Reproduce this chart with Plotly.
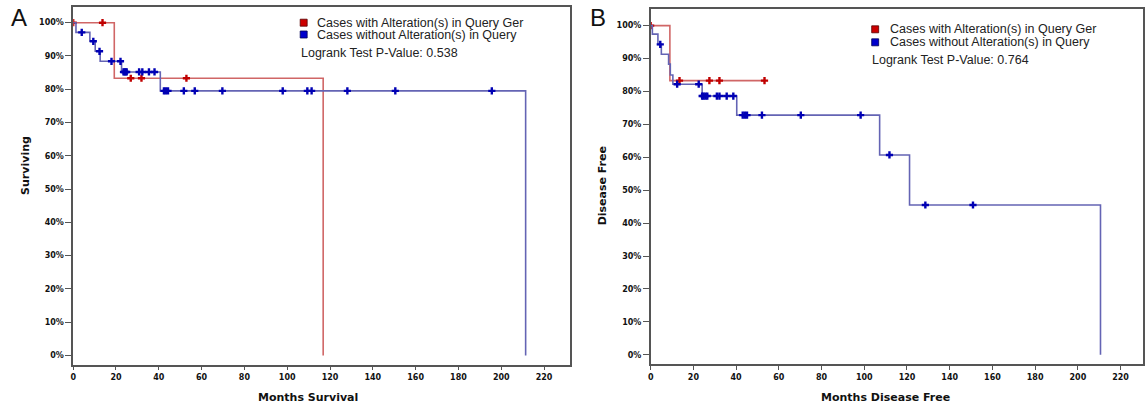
import plotly.graph_objects as go

# ---------------- Panel A: overall survival ----------------
os_alt_event_months = [19.2, 116.8]
os_alt_surv_pct = [83.3, 0.0]
os_alt_censor_months = [0.0, 13.7, 26.9, 31.9, 52.9]
os_alt_end = 116.8

os_wt_event_months = [1.3, 7.8, 10.3, 12.6, 22.6, 40.7, 211.4]
os_wt_surv_pct = [97.1, 94.4, 91.4, 88.4, 85.2, 79.5, 0.0]
os_wt_censor_months = [4.0, 9.4, 12.3, 17.9, 22.1, 23.5, 24.0, 24.5, 25.0,
                       30.8, 32.3, 35.4, 38.0, 42.4, 43.3, 44.3, 51.7, 56.8,
                       69.7, 97.9, 109.4, 111.4, 128.1, 150.5, 195.6]
os_wt_end = 211.4

# ---------------- Panel B: disease-free survival ----------------
dfs_alt_event_months = [9.0]
dfs_alt_surv_pct = [83.3]
dfs_alt_censor_months = [0.0, 13.5, 27.5, 32.2, 53.3]
dfs_alt_end = 53.3

dfs_wt_event_months = [0.8, 3.4, 5.0, 8.4, 9.2, 10.4, 24.1, 40.3, 107.2, 121.2, 210.6]
dfs_wt_surv_pct = [97.4, 94.3, 91.3, 88.3, 85.0, 82.2, 78.6, 72.8, 60.7, 45.5, 0.0]
dfs_wt_censor_months = [4.5, 12.4, 22.5, 24.1, 24.7, 25.6, 26.5, 31.0, 32.2,
                        35.6, 38.7, 43.1, 44.1, 45.1, 52.1, 70.3, 98.3,
                        111.8, 128.6, 150.9]
dfs_wt_end = 210.6

x_ticks = list(range(0, 221, 20))
y_ticks = list(range(0, 101, 10))
y_tick_text = [f"{v}%" for v in y_ticks]

legend_alt = "Cases with Alteration(s) in Query Ger"
legend_wt = "Cases without Alteration(s) in Query"
pvalues = ["Logrank Test P-Value: 0.538", "Logrank Test P-Value: 0.764"]

RED_LINE = "#d06666"
RED_MARK = "#c00000"
BLUE_LINE = "#6464b4"
BLUE_MARK = "#0000b4"

W, H = 1145, 408


def px(x):
    return x / W


def py(y):
    return 1 - y / H


def step_xy(events, surv, end):
    xs = [0.0] + list(events)
    ys = [100.0] + list(surv)
    if end > xs[-1]:
        xs.append(end)
        ys.append(ys[-1])
    return xs, ys


def surv_at(t, events, surv):
    s = 100.0
    for e, v in zip(events, surv):
        if e <= t:
            s = v
    return s


fig = go.Figure()

series = [
    ("x", "y", os_alt_event_months, os_alt_surv_pct, os_alt_censor_months, os_alt_end, RED_LINE, RED_MARK),
    ("x", "y", os_wt_event_months, os_wt_surv_pct, os_wt_censor_months, os_wt_end, BLUE_LINE, BLUE_MARK),
    ("x2", "y2", dfs_alt_event_months, dfs_alt_surv_pct, dfs_alt_censor_months, dfs_alt_end, RED_LINE, RED_MARK),
    ("x2", "y2", dfs_wt_event_months, dfs_wt_surv_pct, dfs_wt_censor_months, dfs_wt_end, BLUE_LINE, BLUE_MARK),
]

for xa, ya, ev, sv, cens, end, lc, mc in series:
    xs, ys = step_xy(ev, sv, end)
    fig.add_trace(go.Scatter(x=xs, y=ys, mode="lines", line=dict(color=lc, width=1.6, shape="hv"),
                             xaxis=xa, yaxis=ya, showlegend=False, hoverinfo="skip"))
    fig.add_trace(go.Scatter(x=cens, y=[surv_at(t, ev, sv) for t in cens], mode="markers",
                             marker=dict(symbol="cross", size=6, color=mc, line=dict(width=0)),
                             xaxis=xa, yaxis=ya, showlegend=False, hoverinfo="skip"))

tickfont = dict(family="DejaVu Sans", size=8, color="#111", weight="bold")
axis_common = dict(showgrid=False, zeroline=False, showline=True, linecolor="#555", linewidth=1.5,
                   mirror=True, ticks="outside", tickcolor="#555", tickfont=tickfont)

fig.update_layout(
    width=W, height=H, margin=dict(l=0, r=0, t=0, b=0),
    paper_bgcolor="white", plot_bgcolor="white",
    xaxis=dict(domain=[px(70.5), px(569)], range=[0, 231.9], tickvals=x_ticks, ticklen=4,
               anchor="y", **axis_common),
    yaxis=dict(domain=[py(364.7), py(6.7)], range=[-2.76, 104.8], tickvals=y_ticks,
               ticktext=y_tick_text, ticklen=6, anchor="x", **axis_common),
    xaxis2=dict(domain=[px(650.5), 1.0], range=[0, 230.5], tickvals=x_ticks, ticklen=4,
                anchor="y2", **axis_common),
    yaxis2=dict(domain=[py(364.3), py(8.5)], range=[-2.9, 105.2], tickvals=y_ticks,
                ticktext=y_tick_text, ticklen=6, anchor="x2", **axis_common),
)

ann = []
title_font = dict(family="DejaVu Sans", size=11, color="#111", weight="bold")
leg_font = dict(family="Liberation Sans", size=12.5, color="#222")


def label(x, y, text, font, xanchor="center", **kw):
    ann.append(dict(x=px(x), y=py(y), text=text, showarrow=False, xref="paper", yref="paper",
                    xanchor=xanchor, yanchor="middle", font=font, **kw))


# panel letters
letter_font = dict(family="Liberation Sans", size=24, color="#111")
label(16, 18, "A", letter_font)
label(598, 18, "B", letter_font)
# axis titles
label(306, 397, "Months Survival", title_font)
label(886, 397, "Months Disease Free", title_font)
label(22, 165, "Surviving", title_font, textangle=-90)
label(603, 186, "Disease Free", title_font, textangle=-90)

# legends
shapes = []
for (sqx, txx, y1, y2, ylr, pv) in [(302, 313, 22.7, 34.5, 53, pvalues[0]),
                                    (876, 889, 29.3, 42.3, 60, pvalues[1])]:
    for yy, txt, col, edge in [(y1, legend_alt, "#cc0000", "#550000"),
                               (y2, legend_wt, "#0000cc", "#000055")]:
        shapes.append(dict(type="rect", xref="paper", yref="paper",
                           x0=px(sqx - 3.5), x1=px(sqx + 3.5), y0=py(yy + 3.5), y1=py(yy - 3.5),
                           fillcolor=col, line=dict(color=edge, width=0.8)))
        label(txx, yy, txt, leg_font, xanchor="left")
    label(sqx - 5, ylr, pv, leg_font, xanchor="left")

fig.update_layout(annotations=ann, shapes=shapes)
fig.write_html("out.html")
